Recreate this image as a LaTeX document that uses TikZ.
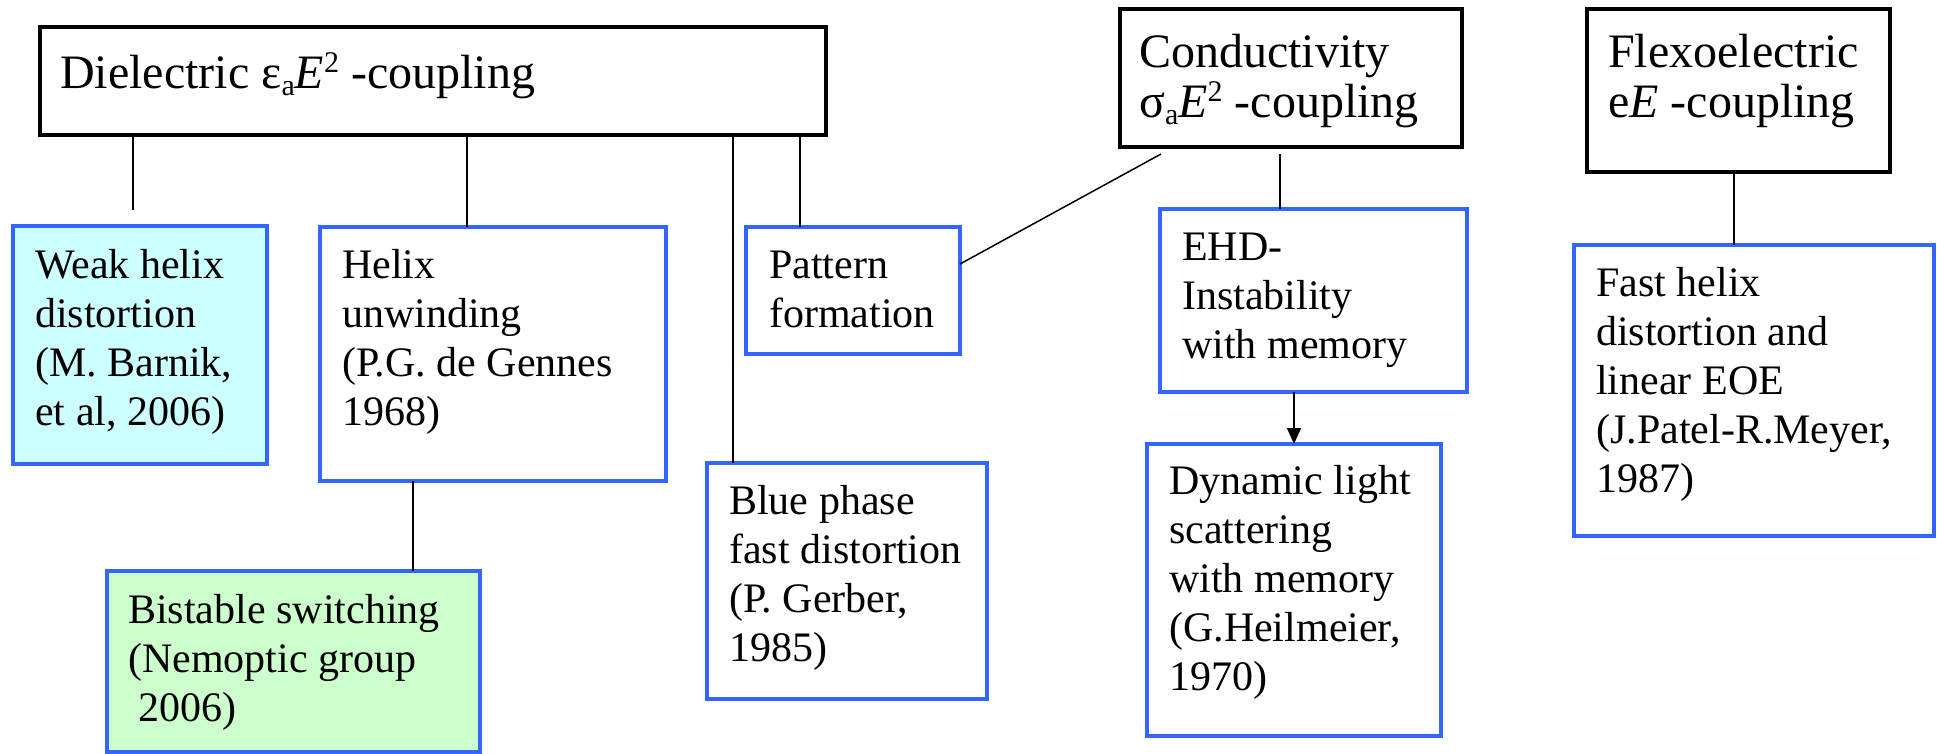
\documentclass[tikz,border=0pt]{standalone}
\usepackage{fontspec}
\setmainfont{Liberation Serif}
\usetikzlibrary{arrows.meta,calc}
\newcommand\mysub[1]{\raisebox{-7pt}{\fontsize{30}{30}\selectfont #1}}
\newcommand\mysup[1]{\raisebox{16pt}{\fontsize{30}{30}\selectfont #1}}
\definecolor{bborder}{HTML}{3366FF}
\definecolor{cyanfill}{HTML}{CCFFFF}
\definecolor{greenfill}{HTML}{CCFFCC}
\tikzset{
 headbox/.style={draw=black, line width=3.5pt, fill=white, rectangle, inner sep=0pt, outer sep=0pt, anchor=north west},
 bluebox/.style={draw=bborder, line width=4pt, fill=white, rectangle, inner sep=0pt, outer sep=0pt, anchor=north west},
 bodytext/.style={anchor=base west, align=left, inner sep=0pt, font={\fontsize{42}{49}\selectfont}},
 headtext/.style={anchor=base west, align=left, inner sep=0pt, font={\fontsize{48}{50}\selectfont}},
 conn/.style={draw=black, line width=1.5pt},
}
\begin{document}
\begin{tikzpicture}[x=1pt,y=-1pt]
\fill[white] (0,0) rectangle (1937,753);
\useasboundingbox (0,0) rectangle (1937,753);

% heading boxes
\node[headbox, minimum width=786pt, minimum height=108pt] (diel) at (40,27) {};
\node[headbox, minimum width=342pt, minimum height=138pt] (cond) at (1120,9) {};
\node[headbox, minimum width=303pt, minimum height=163pt] (flex) at (1587,9) {};

% blue boxes
\node[bluebox, fill=cyanfill, minimum width=254pt, minimum height=238pt] (weak) at (13,226) {};
\node[bluebox, minimum width=346pt, minimum height=254pt] (helix) at (320,227) {};
\node[bluebox, minimum width=214pt, minimum height=127pt] (pattern) at (746,227) {};
\node[bluebox, minimum width=280pt, minimum height=236pt] (blue) at (707,463) {};
\node[bluebox, fill=greenfill, minimum width=373pt, minimum height=181pt] (bist) at (107,571) {};
\node[bluebox, minimum width=307pt, minimum height=183pt] (ehd) at (1160,209) {};
\node[bluebox, minimum width=294pt, minimum height=292pt] (dyn) at (1147,444) {};
\node[bluebox, minimum width=360pt, minimum height=291pt] (fast) at (1574,245) {};

% texts (anchor = baseline of the last line)
\node[headtext] (diel-t) at (60,88) {Dielectric ε\mysub{a}\textit{E}\mysup{2} -coupling};
\node[headtext] (cond-t) at (1139,117) {Conductivity\\σ\mysub{a}\textit{E}\mysup{2} -coupling};
\node[headtext] (flex-t) at (1608,117) {Flexoelectric\\e\textit{E} -coupling};

\node[bodytext] (weak-t) at (35,425) {Weak helix\\distortion\\(M. Barnik,\\et al, 2006)};
\node[bodytext] (helix-t) at (342,425) {Helix\\unwinding\\(P.G. de Gennes\\1968)};
\node[bodytext] (pattern-t) at (769,327) {Pattern\\formation};
\node[bodytext] (blue-t) at (729,661) {Blue phase\\fast distortion\\(P. Gerber,\\1985)};
\node[bodytext] (bist-t) at (128,721) {Bistable switching\\(Nemoptic group\\\hspace*{10pt}2006)};
\node[bodytext] (ehd-t) at (1182,358) {EHD-\\Instability\\with memory};
\node[bodytext] (dyn-t) at (1169,690) {Dynamic light\\scattering\\with memory\\(G.Heilmeier,\\1970)};
\node[bodytext] (fast-t) at (1596,492) {Fast helix\\distortion and\\linear EOE\\(J.Patel-R.Meyer,\\1987)};

% connector coordinates
\coordinate (d1) at (133,210);
\coordinate (h1) at ($(helix.north west)+(147,0)$);
\coordinate (b1) at ($(blue.north west)+(26,0)$);
\coordinate (p1) at ($(pattern.north west)+(54,0)$);
\coordinate (s1) at ($(bist.north west)+(306,0)$);
\coordinate (c1) at (1280,154);
\coordinate (e1) at ($(ehd.north west)+(120,0)$);
\coordinate (c2) at (1161,154);
\coordinate (p2) at ($(pattern.north east)+(0,37)$);
\coordinate (f1) at ($(fast.north west)+(160,0)$);
\coordinate (a1) at ($(ehd.south west)+(134,0)$);

\draw[conn] (d1 |- diel.south) -- (d1);
\draw[conn] (diel.south -| h1) -- (h1);
\draw[conn] (diel.south -| b1) -- (b1);
\draw[conn] (diel.south -| p1) -- (p1);
\draw[conn] (helix.south -| s1) -- (s1);
\draw[conn] (c1) -- (e1);
\draw[conn] (c2) -- (p2);
\draw[conn] (flex.south -| f1) -- (f1);
\draw[conn, -{Triangle[length=16pt,width=14pt]}] (a1) -- (a1 |- dyn.north);
\end{tikzpicture}
\end{document}
